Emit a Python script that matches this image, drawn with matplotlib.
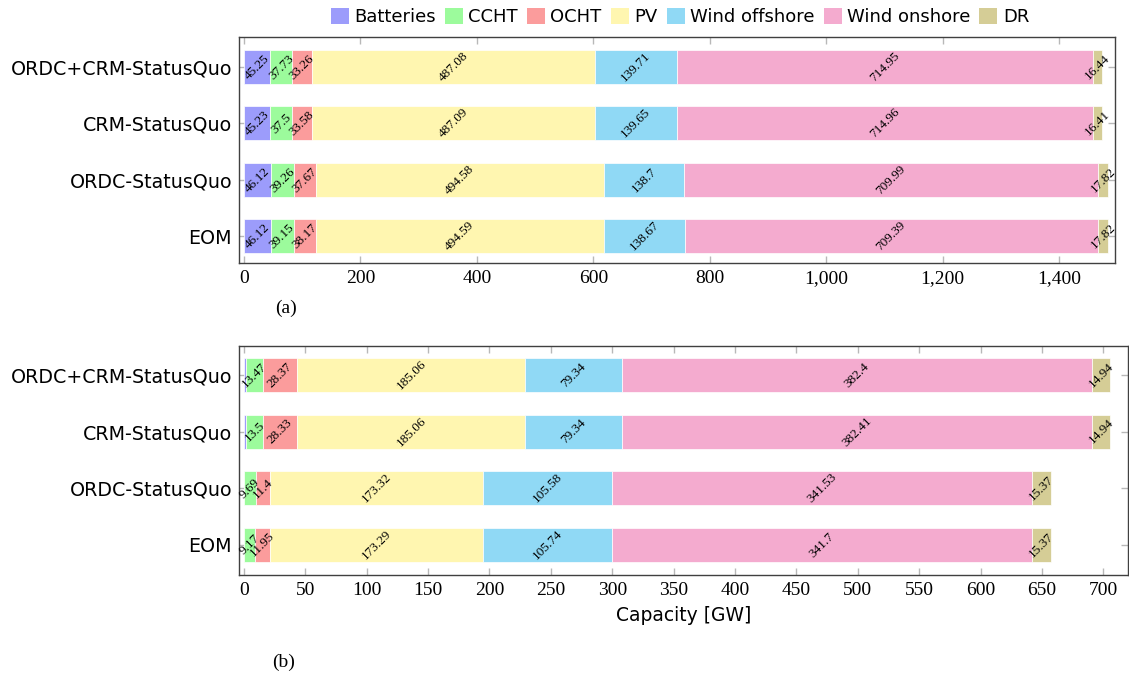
import matplotlib
matplotlib.use("Agg")
import matplotlib.pyplot as plt
from matplotlib.patches import Patch
import numpy as np

scenarios = ["EOM", "ORDC-StatusQuo", "CRM-StatusQuo", "ORDC+CRM-StatusQuo"]
technologies = ["Batteries", "CCHT", "OCHT", "PV", "Wind offshore", "Wind onshore", "DR"]
colors = ["#9c9cfb", "#9cfb9c", "#fb9c9c", "#fff6b0", "#90d9f5", "#f4abcf", "#d5cd96"]

# (a) values per technology, ordered as scenarios
a_batteries = [46.12, 46.12, 45.23, 45.25]
a_ccht = [39.15, 39.26, 37.5, 37.73]
a_ocht = [38.17, 37.67, 33.58, 33.26]
a_pv = [494.59, 494.58, 487.09, 487.08]
a_woff = [138.67, 138.7, 139.65, 139.71]
a_won = [709.39, 709.99, 714.96, 714.95]
a_dr = [17.82, 17.82, 16.41, 16.44]

# (b) values
b_batteries = [0.0, 0.0, 1.8, 1.8]
b_ccht = [9.17, 9.69, 13.5, 13.47]
b_ocht = [11.95, 11.4, 28.33, 28.37]
b_pv = [173.29, 173.32, 185.06, 185.06]
b_woff = [105.74, 105.58, 79.34, 79.34]
b_won = [341.7, 341.53, 382.41, 382.4]
b_dr = [15.37, 15.37, 14.94, 14.94]

xticks_a = [0, 200, 400, 600, 800, 1000, 1200, 1400]
xticks_b = list(range(0, 701, 50))

SANS = "DejaVu Sans"
SERIF = "Liberation Serif"

fig = plt.figure(figsize=(11.29, 6.75), dpi=100)
ax_a = fig.add_axes([239/1129, (675-263)/675, (1115-239)/1129, (263-37)/675])
ax_b = fig.add_axes([239/1129, (675-575)/675, (1128-239)/1129, (575-346)/675])


def draw(ax, series, xlim, ylim, xticks, fmt, skip_first=False):
    y = np.arange(len(scenarios))
    left = np.zeros(len(scenarios))
    for k, (vals, col) in enumerate(zip(series, colors)):
        vals = np.array(vals, dtype=float)
        ax.barh(y, vals, left=left, height=0.6, color=col, edgecolor="white",
                linewidth=0.5, zorder=2)
        for i, v in enumerate(vals):
            if v <= 0 or (skip_first and k == 0):
                continue
            ax.text(left[i] + v / 2, y[i], f"{v:g}", rotation=45, ha="center",
                    va="center", fontsize=9.5, family=SERIF, zorder=3,
                    rotation_mode="anchor")
        left = left + vals
    ax.set_xlim(*xlim)
    ax.set_ylim(*ylim)
    ax.set_yticks(y)
    ax.set_yticklabels(scenarios, family=SANS, fontsize=13.7)
    ax.set_xticks(xticks)
    ax.set_xticklabels([fmt(t) for t in xticks], family=SERIF, fontsize=14)
    ax.tick_params(direction="in", length=5, color="#b8b8b8", width=1,
                   top=True, right=True, pad=5)
    for s in ax.spines.values():
        s.set_color("#404040")
        s.set_linewidth(1.0)


draw(ax_a, [a_batteries, a_ccht, a_ocht, a_pv, a_woff, a_won, a_dr],
     (-8.5, 1496), (-0.47, 3.53), xticks_a, lambda t: f"{t:,}")
draw(ax_b, [b_batteries, b_ccht, b_ocht, b_pv, b_woff, b_won, b_dr],
     (-4, 720), (-0.53, 3.51), xticks_b, lambda t: f"{t}", skip_first=True)

ax_b.set_xlabel("Capacity [GW]", family=SANS, fontsize=13.5, labelpad=5)

fig.text(286/1129, 1 - 308/675, "(a)", ha="center", va="center", family=SERIF, fontsize=14)
fig.text(284/1129, 1 - 662/675, "(b)", ha="center", va="center", family=SERIF, fontsize=14)

handles = [Patch(facecolor=c, edgecolor="none", label=t) for t, c in zip(technologies, colors)]
fig.legend(handles=handles, loc="center", bbox_to_anchor=(680/1129, 1 - 17/675), ncol=7,
           frameon=False, prop={"family": SANS, "size": 13}, handlelength=1.0,
           handleheight=1.0, handletextpad=0.3, columnspacing=0.5, borderpad=0)

fig.savefig("out.png", dpi=100)
